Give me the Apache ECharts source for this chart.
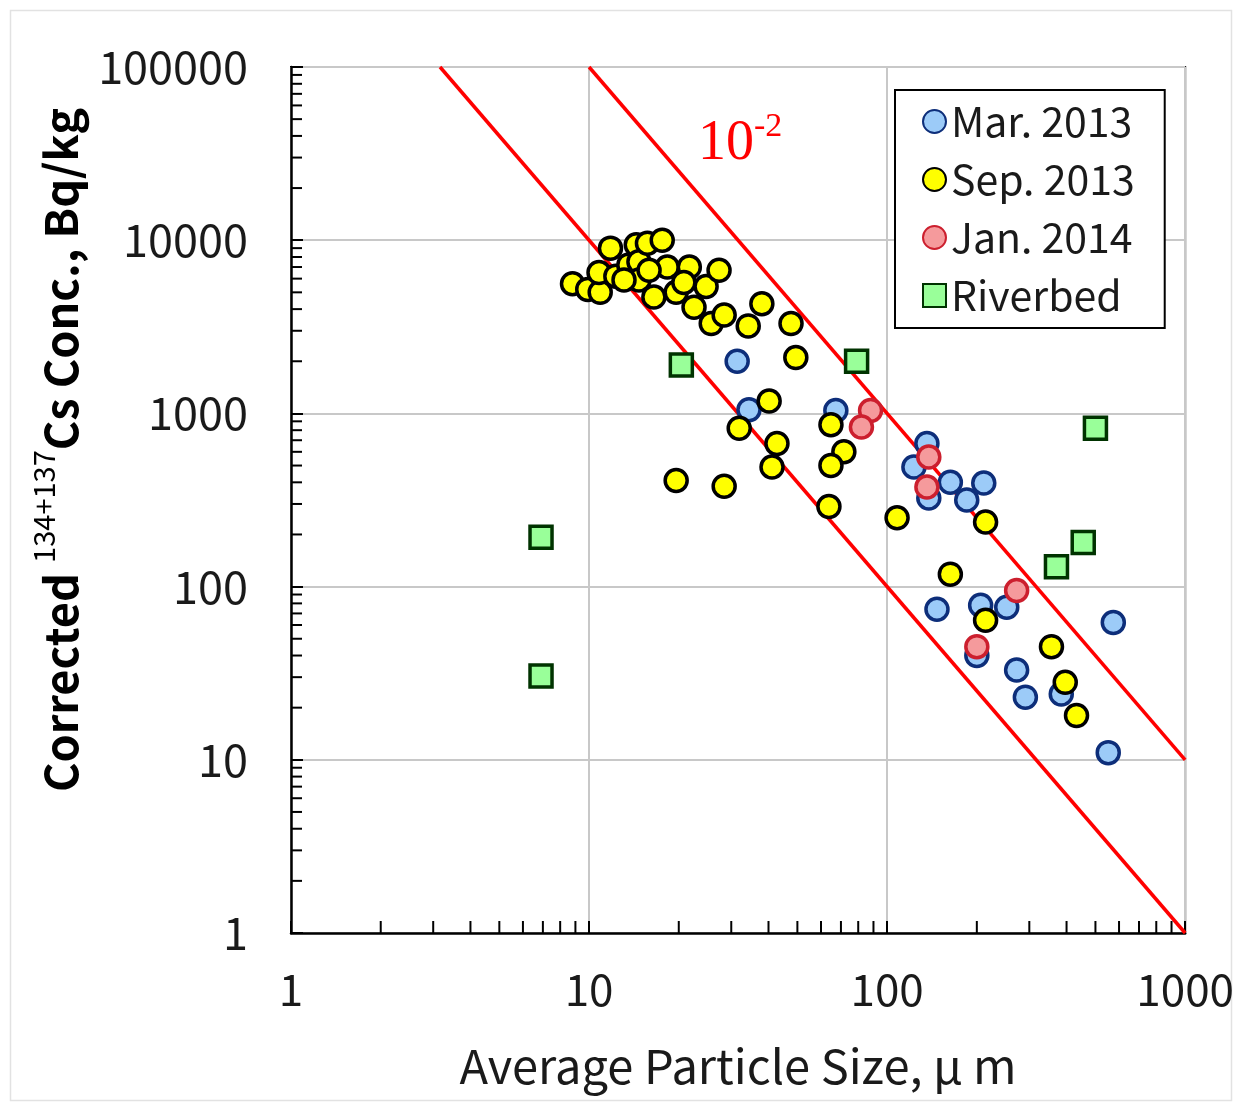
<!DOCTYPE html>
<html>
<head>
<meta charset="utf-8">
<script src="https://cdn.jsdelivr.net/npm/echarts@6/dist/echarts.min.js"></script>
<style>
html,body{margin:0;padding:0;background:#fff;}
#chart{width:1237px;height:1104px;}
</style>
</head>
<body>
<div id="chart"></div>
<script>
// ---- data (x = average particle size in µm, y = corrected Cs conc. in Bq/kg) ----
const seriesNames = ['Mar. 2013', 'Sep. 2013', 'Jan. 2014', 'Riverbed'];

const marData = [
  [31.4, 2000], [34.4, 1050], [67.3, 1040], [136, 670], [123, 490], [138, 325],
  [163, 400], [185, 316], [211, 396], [147, 74], [206, 78], [252, 76],
  [200, 40], [272, 33], [291, 23], [384, 24], [574, 62], [552, 11]
];

const sepData = [
  [8.8, 5600], [9.9, 5200], [10.9, 5000], [10.8, 6500], [11.8, 9000], [12.3, 6200],
  [13.6, 7200], [14.4, 9400], [14.7, 7500], [15.7, 9600], [17.6, 10000], [14.7, 5900],
  [16.5, 4700], [18.3, 7000], [19.6, 5000], [21.7, 7000], [24.7, 5400], [27.3, 6700],
  [22.5, 4100], [25.7, 3300], [28.4, 3700], [34.2, 3200], [38, 4300], [47.6, 3300],
  [49.4, 2100], [15.9, 6700], [20.8, 5700], [13.1, 5900], [40.2, 1180], [31.9, 820],
  [42.7, 670], [41.1, 490], [64.8, 860], [71.6, 600], [64.8, 500], [19.6, 410],
  [28.4, 380], [63.8, 290], [108, 250], [214, 236], [163, 118], [214, 64],
  [356, 45], [396, 28], [432, 18]
];

const janData = [
  [88, 1040], [82, 835], [138, 560], [136, 376], [272, 95], [200, 45]
];

const riverbedData = [
  [6.9, 193], [6.9, 30.5], [20.4, 1900], [79, 2000], [370, 130], [455, 180], [500, 820]
];

// reference lines (slope -2 in log-log)
const refLineA = [[3.1623, 100000], [1000, 1]];
const refLineB = [[10, 100000], [1000, 10]];
const refLabel = { base: '10', exp: '-2' };

// axis ranges and minor ticks
const xRange = [1, 1000];
const yRange = [1, 100000];
const minorFactors = [2, 3, 4, 5, 6, 7, 8, 9];
const xDecades = [1, 10, 100];
const yDecades = [1, 10, 100, 1000, 10000];

const xMinor = [];
xDecades.forEach(d => minorFactors.forEach(f => xMinor.push([d * f, yRange[0]])));
const yMinor = [];
yDecades.forEach(d => minorFactors.forEach(f => yMinor.push([xRange[0], d * f])));

const FONT = '"Noto Sans CJK JP", "Noto Sans", sans-serif';
const SERIF = '"Liberation Serif", "DejaVu Serif", serif';

const chart = echarts.init(document.getElementById('chart'), null, { renderer: 'canvas' });

function tickRender(dir) {
  return function (params, api) {
    const p = api.coord([api.value(0), api.value(1)]);
    const end = dir === 'x' ? [p[0], p[1] - 12] : [p[0] + 11, p[1]];
    return {
      type: 'line',
      shape: { x1: p[0], y1: p[1], x2: end[0], y2: end[1] },
      style: { stroke: '#000', lineWidth: 2 }
    };
  };
}

const option = {
  backgroundColor: '#fff',
  animation: false,
  grid: {
    left: 291, top: 67, width: 896, height: 866,
    show: true, borderColor: '#000', borderWidth: 2, backgroundColor: 'transparent'
  },
  xAxis: {
    type: 'log', logBase: 10, min: xRange[0], max: xRange[1],
    axisLine: { show: true, lineStyle: { color: '#000', width: 2.5 } },
    axisTick: { show: true, inside: true, length: 12, lineStyle: { color: '#000', width: 2 } },
    splitLine: { show: true, lineStyle: { color: '#c8c8c8', width: 2 } },
    axisLabel: {
      margin: 34, fontSize: 44, color: '#1a1a1a', fontFamily: FONT,
      formatter: v => String(Math.round(v))
    },
    name: 'Average Particle Size, μ m',
    nameLocation: 'middle', nameGap: 110,
    nameTextStyle: { fontSize: 47, color: '#1a1a1a', fontFamily: FONT }
  },
  yAxis: {
    type: 'log', logBase: 10, min: yRange[0], max: yRange[1],
    axisLine: { show: true, lineStyle: { color: '#000', width: 2.5 } },
    axisTick: { show: true, inside: true, length: 12, lineStyle: { color: '#000', width: 2 } },
    splitLine: { show: true, lineStyle: { color: '#c8c8c8', width: 2 } },
    axisLabel: {
      margin: 43, fontSize: 45, color: '#1a1a1a', fontFamily: FONT,
      formatter: v => String(Math.round(v))
    },
    name: '{n|Corrected }{s|134+137}{n|Cs Conc., Bq/kg}',
    nameLocation: 'middle', nameGap: 208, nameRotate: 90,
    nameTextStyle: {
      fontFamily: FONT,
      padding: [0, 0, 0, 100],
      rich: {
        n: { fontSize: 45, fontWeight: 'bold', color: '#000', fontFamily: FONT, lineHeight: 54, verticalAlign: 'bottom' },
        s: { fontSize: 29, color: '#000', fontFamily: FONT, lineHeight: 54, verticalAlign: 'top' }
      }
    }
  },
  legend: {
    data: seriesNames,
    orient: 'vertical',
    left: 895, top: 90,
    backgroundColor: '#fff',
    borderColor: '#000', borderWidth: 2,
    padding: [11, 30, 12, 27],
    itemWidth: 23, itemHeight: 23, itemGap: 17,
    textStyle: { fontSize: 41, color: '#1a1a1a', fontFamily: FONT, lineHeight: 39 }
  },
  series: [
    {
      name: 'refA', type: 'line', data: refLineA, symbol: 'none', silent: true,
      lineStyle: { color: '#ff0000', width: 3.5 }, z: 3
    },
    {
      name: 'refB', type: 'line', data: refLineB, symbol: 'none', silent: true,
      lineStyle: { color: '#ff0000', width: 3.5 }, z: 3
    },
    {
      name: 'xMinorTicks', type: 'custom', data: xMinor, renderItem: tickRender('x'), silent: true, z: 4
    },
    {
      name: 'yMinorTicks', type: 'custom', data: yMinor, renderItem: tickRender('y'), silent: true, z: 4
    },
    {
      name: seriesNames[0], type: 'scatter', data: marData, symbol: 'circle', symbolSize: 22,
      itemStyle: { color: '#9ccbf8', borderColor: '#0d2e7a', borderWidth: 3.5, opacity: 1 }, z: 5
    },
    {
      name: seriesNames[1], type: 'scatter', data: sepData, symbol: 'circle', symbolSize: 22,
      itemStyle: { color: '#ffff00', borderColor: '#000', borderWidth: 3.5, opacity: 1 }, z: 5
    },
    {
      name: seriesNames[2], type: 'scatter', data: janData, symbol: 'circle', symbolSize: 22,
      itemStyle: { color: '#f59a9c', borderColor: '#cc1f2e', borderWidth: 3.5, opacity: 1 }, z: 5
    },
    {
      name: seriesNames[3], type: 'scatter', data: riverbedData, symbol: 'rect', symbolSize: 22,
      itemStyle: { color: '#99ff99', borderColor: '#003300', borderWidth: 3.5, opacity: 1 }, z: 5
    }
  ],
  graphic: [
    {
      type: 'rect', left: 8, top: 8, z: -10, silent: true,
      shape: { width: 1221, height: 1090 },
      style: { fill: 'none', stroke: '#e2e2e2', lineWidth: 1.5 }
    },
    {
      type: 'text', left: 698, top: 110, z: 10, silent: true,
      style: {
        text: '{b|' + refLabel.base + '}{e|' + refLabel.exp + '}',
        rich: {
          b: { fontSize: 56, fill: '#ff0000', fontFamily: SERIF, lineHeight: 62, verticalAlign: 'bottom' },
          e: { fontSize: 34, fill: '#ff0000', fontFamily: SERIF, lineHeight: 62, verticalAlign: 'top' }
        }
      }
    }
  ]
};

chart.setOption(option);
</script>
</body>
</html>
